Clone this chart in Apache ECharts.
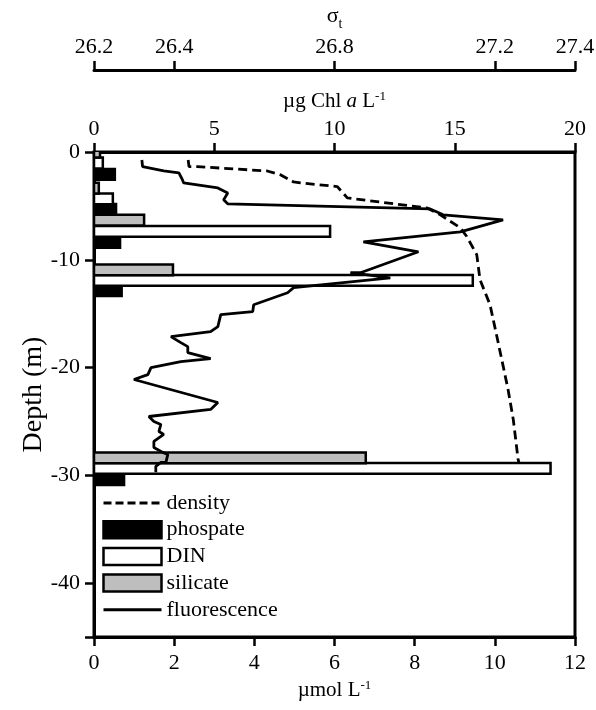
<!DOCTYPE html>
<html>
<head>
<meta charset="utf-8">
<script src="https://cdn.jsdelivr.net/npm/echarts@6/dist/echarts.min.js"></script>
<style>html,body{margin:0;padding:0;background:#fff}#c{width:596px;height:710px}</style>
</head>
<body>
<div id="c"></div>
<script>
// ---- data ----
// fluorescence profile (µg Chl a L-1 vs depth m)
const flValue = [1.99,2.02,2.90,3.53,3.68,3.73,5.15,5.56,5.39,5.56,13.98,14.52,17.01,15.23,11.20,13.49,11.08,10.66,12.32,8.30,8.05,6.64,6.60,5.27,5.15,4.85,3.20,3.61,3.90,3.90,4.85,3.61,2.37,2.24,1.66,5.15,4.85,2.28,2.49,2.78,2.70,2.90,2.49,2.49,2.86,3.07,2.99,2.78,2.57,2.57];
const flDepth = [-0.74,-1.36,-1.76,-1.94,-2.59,-2.87,-3.33,-3.80,-4.44,-4.81,-5.28,-5.83,-6.30,-7.41,-8.33,-9.26,-11.20,-11.20,-11.67,-12.59,-13.06,-14.17,-14.81,-15.09,-16.20,-16.67,-17.13,-17.69,-18.06,-18.61,-19.17,-19.44,-20.00,-20.65,-21.11,-23.24,-23.89,-24.54,-25.00,-25.28,-25.93,-26.20,-26.85,-27.41,-27.87,-28.06,-28.80,-28.80,-29.17,-29.72];
// density (sigma-t vs depth m)
const sigmaValue = [26.435,26.437,26.458,26.632,26.666,26.698,26.715,26.807,26.832,27.031,27.064,27.114,27.130,27.155,27.163,27.188,27.205,27.221,27.233,27.246,27.258,27.260];
const sigmaDepth = [-0.74,-1.36,-1.36,-1.76,-2.13,-2.78,-2.87,-3.21,-4.26,-5.19,-5.83,-7.04,-7.84,-9.54,-11.85,-14.17,-17.10,-19.91,-22.04,-24.81,-28.52,-28.80];
// nutrients (µmol L-1)
const silicateValue = [0.15,0.12,1.25,1.97,6.78];
const silicateDepth = [0.0,-3.35,-6.33,-10.93,-28.38];
const dinValue = [0.22,0.47,5.89,9.45,11.39];
const dinDepth = [-1.02,-4.35,-7.36,-11.92,-29.36];
const phosphateValue = [0.52,0.55,0.65,0.69,0.75];
const phosphateDepth = [-2.08,-5.32,-8.38,-12.87,-30.40];
// tick labels
const depthTicks = [0,-10,-20,-30,-40];
const sigmaTicks = [26.2,26.4,26.8,27.2,27.4];

const zip = (a,b) => a.map((v,i)=>[v,b[i]]);
const FONT = 'Liberation Serif';
const FS = 22;
const BAR_HALF = 0.5;

function barRenderer(fill){
  return function(params, api){
    const v = api.value(0), d = api.value(1);
    const p0 = api.coord([0, d + BAR_HALF]);
    const p1 = api.coord([v, d - BAR_HALF]);
    return {type:'rect', shape:{x:p0[0], y:p0[1], width:p1[0]-p0[0], height:p1[1]-p0[1]},
      style:{fill:fill, stroke:'#000', lineWidth:2.5}};
  };
}

const axisLine = {show:true, onZero:false, lineStyle:{color:'#000', width:3}};
const axisTick = {show:true, inside:false, length:9, lineStyle:{color:'#000', width:2.5}};
const lbl = {color:'#000', fontFamily:FONT, fontSize:FS};
const hideSym = {color:'rgba(0,0,0,0)', borderWidth:0, opacity:0};

const chart = echarts.init(document.getElementById('c'), null, {renderer:'canvas'});
chart.setOption({
  animation:false,
  backgroundColor:'#fff',
  grid:{left:94, right:21, top:152, bottom:73, outerBoundsMode:'none', containLabel:false,
        show:true, borderColor:'#000', borderWidth:3, backgroundColor:'transparent'},
  legend:{
    orient:'vertical', left:102, top:492, padding:0, itemWidth:58, itemHeight:17, itemGap:4.7,
    selectedMode:false,
    textStyle:{color:'#000', fontFamily:FONT, fontSize:FS},
    data:[
      {name:'density', itemStyle:hideSym, lineStyle:{width:3, type:[8,4]}},
      {name:'phospate', icon:'rect', itemStyle:{color:'#000', borderColor:'#000', borderWidth:2.5}},
      {name:'DIN', icon:'rect', itemStyle:{color:'#fff', borderColor:'#000', borderWidth:2.5}},
      {name:'silicate', icon:'rect', itemStyle:{color:'#bebebe', borderColor:'#000', borderWidth:2.5}},
      {name:'fluorescence', itemStyle:hideSym, lineStyle:{width:3}}
    ]
  },
  xAxis:[
    {type:'value', position:'bottom', min:0, max:12, interval:2,
     axisLine:axisLine, axisTick:axisTick, splitLine:{show:false},
     axisLabel:Object.assign({margin:15}, lbl),
     name:'{n|µmol L}{sup|-1}', nameLocation:'middle', nameGap:42,
     nameTextStyle:{rich:{n:{fontFamily:FONT, fontSize:21, color:'#000', lineHeight:22, verticalAlign:'bottom'},
                          sup:{fontFamily:FONT, fontSize:13, color:'#000', lineHeight:13, verticalAlign:'top'}}}},
    {type:'value', position:'top', offset:0, min:0, max:20, interval:5,
     axisLine:axisLine, axisTick:axisTick, splitLine:{show:false},
     axisLabel:Object.assign({margin:12}, lbl),
     name:'{n|µg Chl }{i|a}{n| L}{sup|-1}', nameLocation:'middle', nameGap:40,
     nameTextStyle:{rich:{n:{fontFamily:FONT, fontSize:21, color:'#000', lineHeight:22, verticalAlign:'bottom'},
                          i:{fontFamily:FONT, fontSize:21, fontStyle:'italic', color:'#000', lineHeight:22, verticalAlign:'bottom'},
                          sup:{fontFamily:FONT, fontSize:13, color:'#000', lineHeight:13, verticalAlign:'top'}}}},
    {type:'value', position:'top', offset:82, min:26.2, max:27.4,
     axisLine:axisLine, splitLine:{show:false},
     axisTick:Object.assign({customValues:sigmaTicks}, axisTick),
     axisLabel:Object.assign({margin:12, customValues:sigmaTicks, formatter:v=>v.toFixed(1)}, lbl),
     name:'{s|σ}{t|t}', nameLocation:'middle', nameGap:35,
     nameTextStyle:{rich:{s:{fontFamily:FONT, fontSize:22, color:'#000', lineHeight:22, verticalAlign:'top'},
                          t:{fontFamily:FONT, fontSize:14, color:'#000', lineHeight:14, verticalAlign:'top', padding:[12,0,0,0]}}}}
  ],
  yAxis:[
    {type:'value', min:-45, max:0,
     axisLine:axisLine, splitLine:{show:false},
     axisTick:Object.assign({customValues:[0,-10,-20,-30,-40,-45]}, axisTick),
     axisLabel:Object.assign({margin:14, customValues:depthTicks}, lbl),
     name:'Depth (m)', nameLocation:'middle', nameRotate:90, nameGap:46, nameMoveOverlap:false,
     nameTextStyle:{fontFamily:FONT, fontSize:28, color:'#000'}}
  ],
  series:[
    {name:'phospate', type:'custom', xAxisIndex:0, yAxisIndex:0, clip:true, z:2,
     itemStyle:{color:'#000'}, renderItem:barRenderer('#000'), encode:{x:0,y:1},
     data:zip(phosphateValue, phosphateDepth)},
    {name:'DIN', type:'custom', xAxisIndex:0, yAxisIndex:0, clip:true, z:2,
     itemStyle:{color:'#fff'}, renderItem:barRenderer('#fff'), encode:{x:0,y:1},
     data:zip(dinValue, dinDepth)},
    {name:'silicate', type:'custom', xAxisIndex:0, yAxisIndex:0, clip:true, z:2,
     itemStyle:{color:'#bebebe'}, renderItem:barRenderer('#bebebe'), encode:{x:0,y:1},
     data:zip(silicateValue, silicateDepth)},
    {name:'density', type:'line', xAxisIndex:2, yAxisIndex:0, symbol:'none', z:3,
     lineStyle:{color:'#000', width:2.8, type:[9,5]}, itemStyle:{color:'#000'},
     data:zip(sigmaValue, sigmaDepth)},
    {name:'fluorescence', type:'line', xAxisIndex:1, yAxisIndex:0, symbol:'none', z:4,
     lineStyle:{color:'#000', width:2.8}, itemStyle:{color:'#000'},
     data:zip(flValue, flDepth)}
  ]
});
</script>
</body>
</html>
